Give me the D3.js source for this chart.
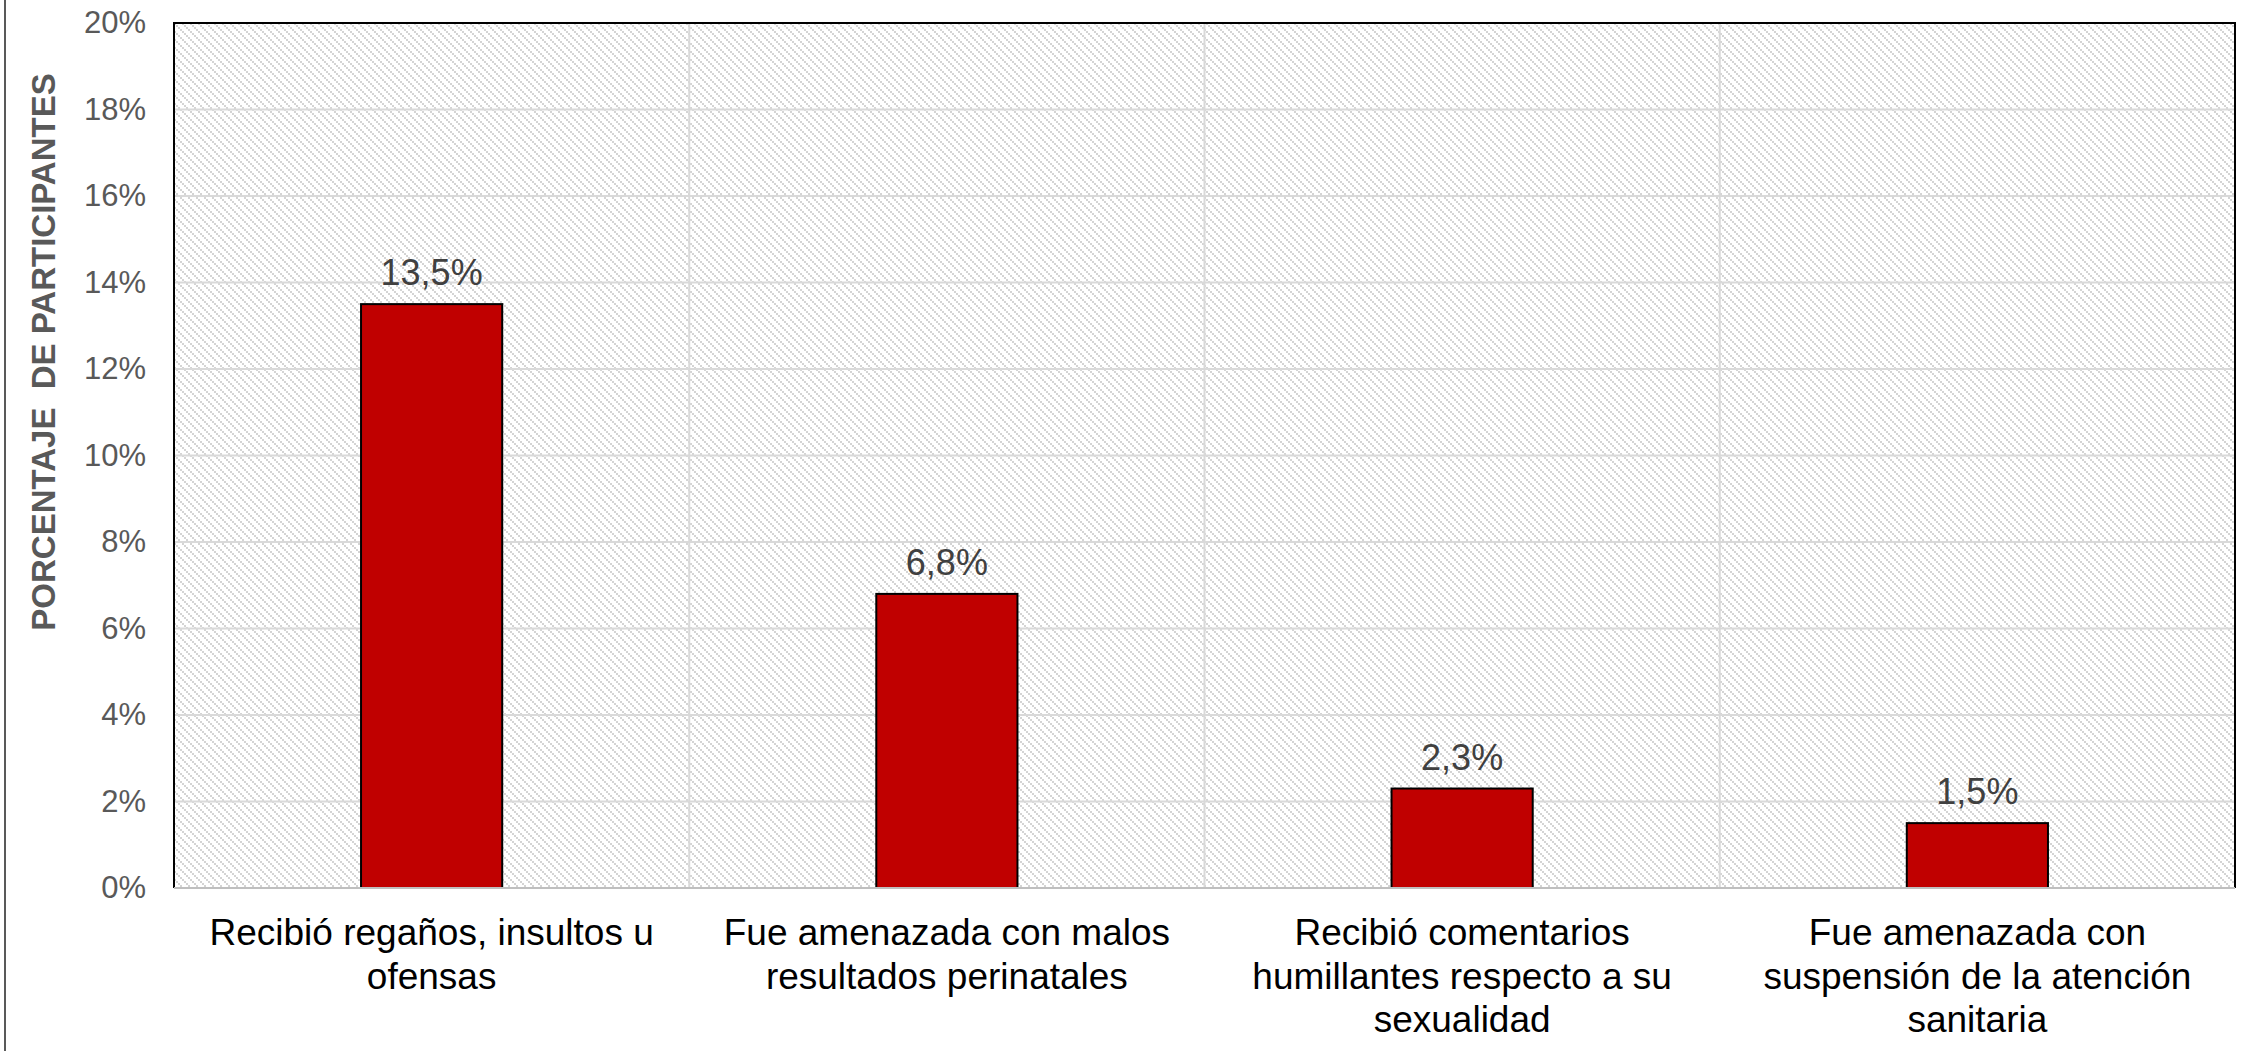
<!DOCTYPE html>
<html>
<head>
<meta charset="utf-8">
<script src="https://cdn.jsdelivr.net/npm/d3@7"></script>
<style>
  html, body { margin: 0; padding: 0; background: #ffffff; }
  svg { display: block; font-family: "Liberation Sans", Arial, sans-serif; }
</style>
</head>
<body>
<svg id="chart" width="2259" height="1051"></svg>
<script>
// Categories (explicit line breaks for the wrapped axis labels)
const categories = [
  "Recibió regaños, insultos u\nofensas",
  "Fue amenazada con malos\nresultados perinatales",
  "Recibió comentarios\nhumillantes respecto a su\nsexualidad",
  "Fue amenazada con\nsuspensión de la atención\nsanitaria"
];
// Percentage of participants
const values = [13.5, 6.8, 2.3, 1.5];
// Y axis ticks
const yTicks = [0, 2, 4, 6, 8, 10, 12, 14, 16, 18, 20];
const yTitle = "PORCENTAJE  DE PARTICIPANTES";

const W = 2259, H = 1051;
const margin = { top: 23, right: 24, bottom: 163, left: 174 };
const iw = W - margin.left - margin.right;
const ih = H - margin.top - margin.bottom;

const svg = d3.select("#chart");

// Diagonal dotted hatch used as plot background
const defs = svg.append("defs");
const pat = defs.append("pattern")
  .attr("id", "hatch")
  .attr("patternUnits", "userSpaceOnUse")
  .attr("width", 8).attr("height", 8);
pat.append("rect").attr("width", 8).attr("height", 8).attr("fill", "#ffffff");
[0, 2, 4, 6].forEach(k => {
  pat.append("rect").attr("x", k).attr("y", k).attr("width", 2).attr("height", 2).attr("fill", "#d4d4d4");
});

// Outer chart frame edge on the left
svg.append("line")
  .attr("x1", 5).attr("x2", 5).attr("y1", 0).attr("y2", H)
  .attr("stroke", "#595959").attr("stroke-width", 2);

const g = svg.append("g").attr("transform", `translate(${margin.left},${margin.top})`);

const x = d3.scaleBand().domain(categories).range([0, iw]).paddingInner(0).paddingOuter(0);
const y = d3.scaleLinear().domain([0, 20]).range([ih, 0]);

g.append("rect").attr("width", iw).attr("height", ih).attr("fill", "url(#hatch)");

// Horizontal gridlines
g.append("g").selectAll("line").data(yTicks.filter(t => t > 0 && t < 20)).join("line")
  .attr("x1", 0).attr("x2", iw)
  .attr("y1", d => y(d)).attr("y2", d => y(d))
  .attr("stroke", "#d9d9d9").attr("stroke-width", 2);

// Vertical category separators
g.append("g").selectAll("line").data(categories.slice(1)).join("line")
  .attr("x1", d => x(d)).attr("x2", d => x(d))
  .attr("y1", 0).attr("y2", ih)
  .attr("stroke", "#d9d9d9").attr("stroke-width", 2);

// Bars
const barW = x.bandwidth() * 0.274;
g.append("g").selectAll("rect").data(values).join("rect")
  .attr("x", (d, i) => x(categories[i]) + (x.bandwidth() - barW) / 2)
  .attr("y", d => y(d))
  .attr("width", barW)
  .attr("height", d => ih - y(d))
  .attr("fill", "#c00000")
  .attr("stroke", "#000000")
  .attr("stroke-width", 2);

// Value labels
const fmt = v => d3.format(".1f")(v).replace(".", ",") + "%";
g.append("g").selectAll("text").data(values).join("text")
  .attr("x", (d, i) => x(categories[i]) + x.bandwidth() / 2)
  .attr("y", d => y(d) - 19)
  .attr("text-anchor", "middle")
  .attr("font-size", 36)
  .attr("fill", "#404040")
  .text(d => fmt(d));

// Plot frame: dark top/left/right, grey baseline
g.append("path")
  .attr("d", `M0,${ih}V0H${iw}V${ih}`)
  .attr("fill", "none").attr("stroke", "#000000").attr("stroke-width", 2);
g.append("line")
  .attr("x1", 0).attr("x2", iw).attr("y1", ih).attr("y2", ih)
  .attr("stroke", "#bfbfbf").attr("stroke-width", 2);

// Y axis
const yAxis = g.append("g")
  .call(d3.axisLeft(y).tickValues(yTicks).tickFormat(d => d + "%").tickSize(0).tickPadding(28));
yAxis.select(".domain").remove();
yAxis.selectAll("text")
  .attr("font-size", 31)
  .attr("font-family", "Liberation Sans, Arial, sans-serif")
  .attr("fill", "#595959");

// X axis labels
const xAxis = g.append("g").attr("transform", `translate(0,${ih})`)
  .call(d3.axisBottom(x).tickSize(0).tickFormat(""));
xAxis.select(".domain").remove();
xAxis.selectAll(".tick").each(function(d) {
  const lines = d.split("\n");
  const t = d3.select(this).append("text")
    .attr("text-anchor", "middle")
    .attr("font-size", 37)
    .attr("font-family", "Liberation Sans, Arial, sans-serif")
    .attr("fill", "#000000");
  lines.forEach((ln, i) => {
    t.append("tspan").attr("x", 0).attr("y", 57 + i * 43.5).text(ln);
  });
});

// Y axis title
svg.append("text")
  .attr("transform", `translate(55,352) rotate(-90)`)
  .attr("text-anchor", "middle")
  .attr("font-size", 33)
  .attr("font-weight", "bold")
  .attr("fill", "#595959")
  .style("white-space", "pre")
  .text(yTitle);
</script>
</body>
</html>
